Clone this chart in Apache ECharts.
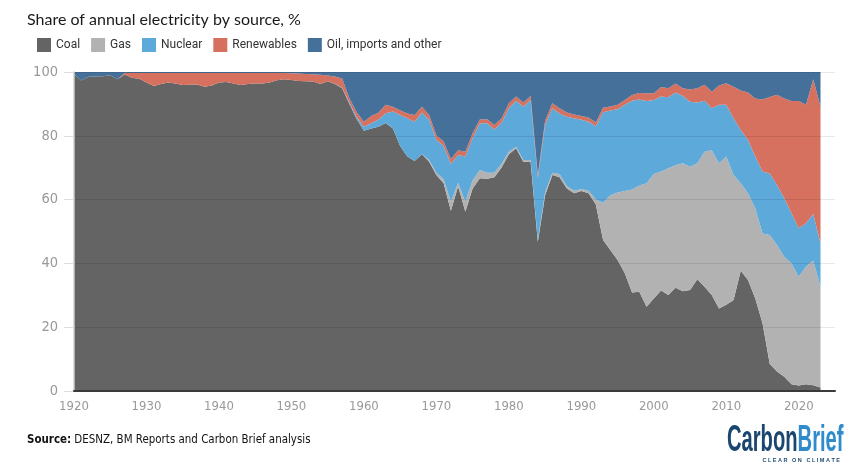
<!DOCTYPE html>
<html>
<head>
<meta charset="utf-8">
<script src="https://cdn.jsdelivr.net/npm/echarts@6/dist/echarts.min.js"></script>
<style>
  html, body { margin: 0; padding: 0; background: #fff; }
  #chart { width: 855px; height: 469px; }
</style>
</head>
<body>
<div id="chart"></div>
<script>
// years on the x axis (data runs to 2023, the axis runs on to 2025)
const years = [
  1920, 1921, 1922, 1923, 1924, 1925, 1926, 1927, 1928, 1929,
  1930, 1931, 1932, 1933, 1934, 1935, 1936, 1937, 1938, 1939,
  1940, 1941, 1942, 1943, 1944, 1945, 1946, 1947, 1948, 1949,
  1950, 1951, 1952, 1953, 1954, 1955, 1956, 1957, 1958, 1959,
  1960, 1961, 1962, 1963, 1964, 1965, 1966, 1967, 1968, 1969,
  1970, 1971, 1972, 1973, 1974, 1975, 1976, 1977, 1978, 1979,
  1980, 1981, 1982, 1983, 1984, 1985, 1986, 1987, 1988, 1989,
  1990, 1991, 1992, 1993, 1994, 1995, 1996, 1997, 1998, 1999,
  2000, 2001, 2002, 2003, 2004, 2005, 2006, 2007, 2008, 2009,
  2010, 2011, 2012, 2013, 2014, 2015, 2016, 2017, 2018, 2019,
  2020, 2021, 2022, 2023
];
const axisPadYears = [2024, 2025];

// share of electricity, %
const coal = [
  99.3, 97.3, 98.5, 98.6, 98.7, 99.0, 97.7, 99.2, 98.2, 97.9,
  96.7, 95.6, 96.2, 96.7, 96.4, 95.9, 96.0, 96.1, 95.4, 95.8,
  96.7, 96.9, 96.4, 95.9, 96.2, 96.4, 96.4, 96.7, 97.4, 97.7,
  97.5, 97.2, 97.1, 97.0, 96.2, 97.1, 96.2, 94.9, 90.0, 85.3,
  81.6, 82.3, 82.8, 84.0, 82.3, 76.8, 73.5, 72.1, 74.2, 71.9,
  67.7, 65.1, 56.5, 64.1, 56.2, 63.5, 66.7, 66.5, 67.0, 70.1,
  74.2, 76.1, 71.9, 71.9, 46.8, 61.4, 67.7, 67.0, 63.5, 62.0,
  62.7, 62.0, 58.5, 47.3, 44.2, 41.1, 36.9, 30.9, 31.1, 26.4,
  29.0, 31.5, 30.1, 32.4, 31.3, 31.7, 35.0, 32.7, 30.1, 25.9,
  27.0, 28.5, 37.7, 34.8, 29.0, 21.2, 8.5, 6.1, 4.5, 2.1,
  1.7, 2.1, 1.8, 1.1
];

const gas = [
  0, 0, 0, 0, 0, 0, 0, 0, 0, 0,
  0, 0, 0, 0, 0, 0, 0, 0, 0, 0,
  0, 0, 0, 0, 0, 0, 0, 0, 0, 0,
  0, 0, 0, 0, 0, 0, 0, 0, 0, 0,
  0, 0, 0, 0, 0, 0, 0, 0, 0, 0.5,
  0.7, 1.3, 2.8, 1.2, 3.1, 2.6, 2.6, 1.9, 1.4, 1.1,
  0.8, 0.5, 0.5, 0.5, 0.5, 0.8, 0.7, 1.0, 0.8, 0.8,
  0.6, 0.8, 1.5, 11.7, 17.2, 21.1, 25.8, 32.3, 33.3, 38.7,
  39.0, 37.3, 39.7, 38.4, 40.1, 38.6, 36.4, 42.3, 45.4, 45.5,
  46.5, 39.2, 27.4, 27.2, 28.3, 28.2, 40.4, 39.7, 37.6, 37.9,
  34.1, 36.9, 39.1, 31.6
];

const nuclear = [
  0, 0, 0, 0, 0, 0, 0, 0, 0, 0,
  0, 0, 0, 0, 0, 0, 0, 0, 0, 0,
  0, 0, 0, 0, 0, 0, 0, 0, 0, 0,
  0, 0, 0, 0, 0, 0, 0.1, 0.2, 0.4, 0.6,
  1.2, 1.6, 2.2, 3.1, 5.3, 9.7, 12.0, 12.3, 13.1, 12.6,
  10.4, 10.4, 11.9, 8.7, 14.2, 13.1, 14.6, 15.5, 13.6, 12.9,
  13.6, 14.4, 16.7, 18.8, 19.4, 21.2, 20.2, 19.0, 21.7, 22.7,
  21.7, 21.6, 23.0, 28.4, 26.5, 26.1, 27.0, 27.8, 27.0, 25.8,
  23.2, 23.5, 22.3, 22.8, 21.1, 20.4, 19.0, 16.0, 13.1, 18.3,
  16.2, 17.8, 16.7, 16.7, 16.2, 19.4, 19.3, 18.8, 18.3, 15.7,
  15.2, 13.6, 14.6, 13.6
];

const renewables = [
  0, 0, 0, 0, 0, 0, 0, 0.5, 1.5, 1.8,
  3.0, 4.1, 3.5, 3.0, 3.3, 3.8, 3.7, 3.6, 4.3, 3.9,
  3.0, 2.8, 3.3, 3.8, 3.5, 3.3, 3.3, 3.0, 2.3, 2.0,
  2.1, 2.3, 2.3, 2.3, 2.9, 1.8, 2.3, 2.9, 1.4, 1.5,
  1.6, 2.3, 2.2, 2.6, 1.5, 1.5, 1.5, 2.1, 1.8, 1.5,
  1.4, 1.4, 1.5, 1.5, 1.5, 1.6, 1.2, 1.3, 1.4, 1.4,
  1.6, 1.3, 1.3, 1.3, 1.0, 1.3, 1.6, 1.6, 1.3, 1.2,
  1.2, 1.3, 1.2, 1.4, 1.3, 1.4, 1.5, 1.8, 2.0, 2.4,
  2.1, 3.0, 2.8, 2.8, 2.4, 3.8, 4.5, 5.0, 5.2, 6.1,
  6.8, 9.9, 12.4, 14.9, 18.2, 22.6, 24.0, 28.3, 31.3, 35.2,
  39.9, 37.1, 42.2, 42.8
];

const other = [
  0.7, 2.7, 1.5, 1.4, 1.3, 1.0, 2.3, 0.3, 0.3, 0.3,
  0.3, 0.3, 0.3, 0.3, 0.3, 0.3, 0.3, 0.3, 0.3, 0.3,
  0.3, 0.3, 0.3, 0.3, 0.3, 0.3, 0.3, 0.3, 0.3, 0.3,
  0.4, 0.5, 0.6, 0.7, 0.9, 1.1, 1.4, 2.0, 8.2, 12.6,
  15.6, 13.8, 12.8, 10.3, 10.9, 12.0, 13.0, 13.5, 10.9, 13.5,
  19.8, 21.8, 27.3, 24.5, 25.0, 19.2, 14.9, 14.8, 16.6, 14.5,
  9.8, 7.7, 9.6, 7.5, 32.3, 15.3, 9.8, 11.4, 12.7, 13.3,
  13.8, 14.3, 15.8, 11.2, 10.8, 10.3, 8.8, 7.2, 6.6, 6.7,
  6.7, 4.7, 5.1, 3.6, 5.1, 5.5, 5.1, 4.0, 6.2, 4.2,
  3.5, 4.6, 5.8, 6.4, 8.3, 8.6, 7.8, 7.1, 8.3, 9.1,
  9.1, 10.3, 2.3, 10.9
];

const seriesNames = ["Coal", "Gas", "Nuclear", "Renewables", "Oil, imports and other"];
const seriesColors = ["#646464", "#b2b2b2", "#5da9da", "#d6705f", "#45709a"];
const seriesValues = [coal, gas, nuclear, renewables, other];

const narrowFont = "'Liberation Sans Narrow', 'DejaVu Sans Condensed', sans-serif";

const chart = echarts.init(document.getElementById("chart"));

const options = {
  animation: false,
  title: {
    text: "Share of annual electricity by source, %",
    left: 22,
    top: 7,
    textStyle: { fontFamily: "Lato", fontSize: 16, fontWeight: "normal", color: "#1a1a1a" },
  },
  legend: {
    data: seriesNames,
    left: 32,
    top: 33,
    icon: "rect",
    itemWidth: 14,
    itemHeight: 14,
    itemGap: 11,
    textStyle: { fontFamily: "Roboto", fontSize: 12, color: "#333" },
  },
  grid: { left: 74, right: 20, top: 72, bottom: 78 },
  xAxis: {
    type: "category",
    data: years.concat(axisPadYears),
    boundaryGap: false,
    z: 5,
    axisLine: { lineStyle: { color: "#3a3a3a", width: 2 } },
    axisTick: { show: false },
    splitLine: { show: false },
    axisLabel: {
      color: "#999",
      fontSize: 13,
      fontFamily: narrowFont,
      margin: 9,
      interval: 9,
    },
  },
  yAxis: {
    type: "value",
    min: 0,
    max: 100,
    interval: 20,
    z: 4,
    axisLine: { show: true, lineStyle: { color: "#cfcfcf", width: 1.5 } },
    axisTick: { show: true, length: 10, lineStyle: { color: "#ddd" } },
    axisLabel: { color: "#999", fontSize: 14.5, fontFamily: narrowFont, margin: 16 },
    splitLine: { lineStyle: { color: "rgba(0,0,0,0.09)" } },
  },
  series: seriesNames.map((name, k) => ({
    name: name,
    type: "line",
    stack: "total",
    data: seriesValues[k],
    symbol: "none",
    showSymbol: false,
    lineStyle: { width: 0 },
    itemStyle: { color: seriesColors[k] },
    areaStyle: { color: seriesColors[k], opacity: 1 },
    emphasis: { disabled: true },
  })),
  graphic: [
    {
      type: "text",
      x: 27,
      y: 433,
      scaleX: 0.88,
      style: {
        text: "{b|Source:} DESNZ, BM Reports and Carbon Brief analysis",
        fontFamily: narrowFont,
        fontSize: 13,
        fill: "#111",
        rich: { b: { fontFamily: narrowFont, fontSize: 13, fontWeight: "bold", fill: "#111" } },
      },
    },
    {
      type: "text",
      x: 727,
      y: 422,
      scaleX: 0.545,
      style: {
        text: "{a|Carbon}{b|Brief}",
        rich: {
          a: { fontFamily: "'Liberation Sans'", fontSize: 37, fontWeight: "bold", fill: "#1a466f" },
          b: { fontFamily: "'Liberation Sans'", fontSize: 37, fontWeight: "bold", fill: "#2e8bcc" },
        },
      },
    },
    {
      type: "text",
      x: 840,
      y: 457,
      style: {
        text: "C L E A R   O N   C L I M A T E",
        fontFamily: "'Liberation Sans'",
        fontSize: 5.5,
        fontWeight: "bold",
        fill: "#1c4a73",
        align: "right",
      },
    },
  ],
};

chart.setOption(options);
</script>
</body>
</html>
